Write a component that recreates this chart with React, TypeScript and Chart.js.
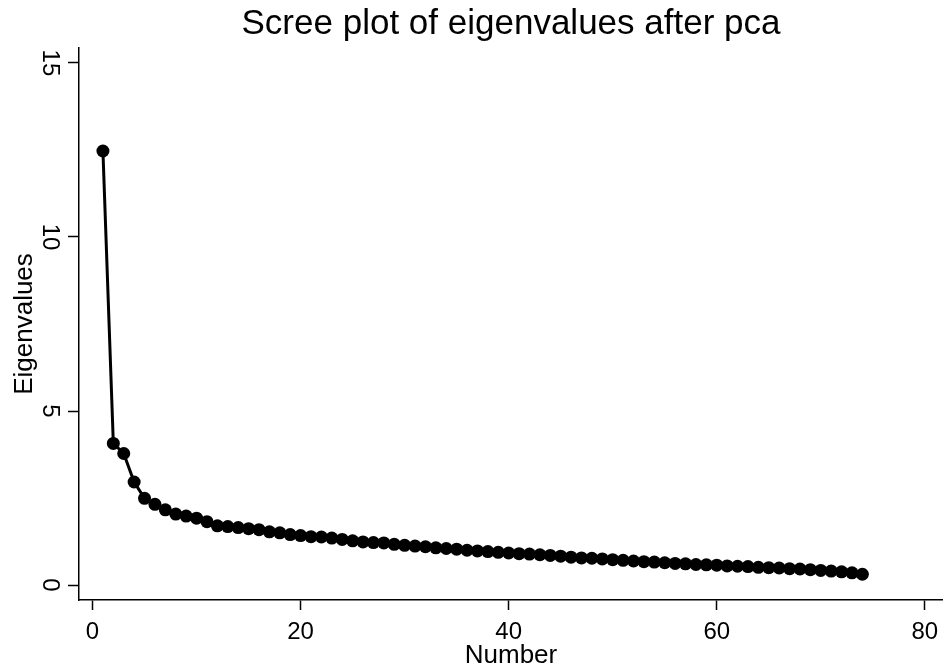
import React, { useEffect, useRef } from "react";
import { Chart, registerables } from "chart.js";

Chart.register(...registerables);

const chartTitle = "Scree plot of eigenvalues after pca";
const xAxisTitle = "Number";
const yAxisTitle = "Eigenvalues";

const eigenvalues = [
  12.47, 4.07, 3.78, 2.96, 2.49, 2.32, 2.16, 2.04, 1.98, 1.92,
  1.82, 1.7, 1.68, 1.65, 1.62, 1.59, 1.53, 1.5, 1.45, 1.42,
  1.39, 1.38, 1.35, 1.31, 1.27, 1.24, 1.22, 1.21, 1.17, 1.14,
  1.12, 1.1, 1.07, 1.05, 1.03, 1.0, 0.98, 0.96, 0.94, 0.92,
  0.9, 0.89, 0.87, 0.85, 0.83, 0.8, 0.78, 0.77, 0.75, 0.73,
  0.71, 0.69, 0.67, 0.66, 0.64, 0.62, 0.61, 0.59, 0.58, 0.57,
  0.55, 0.54, 0.53, 0.51, 0.5, 0.49, 0.47, 0.46, 0.44, 0.42,
  0.4, 0.38, 0.35, 0.31,
];
const componentNumbers = eigenvalues.map((_, i) => i + 1);

const xTicks = [0, 20, 40, 60, 80];
const yTicks = [0, 5, 10, 15];

const FONT = "'Liberation Sans', Arial, Helvetica, sans-serif";

export default function App() {
  const ref = useRef<HTMLCanvasElement | null>(null);

  useEffect(() => {
    if (!ref.current) return;
    const chart = new Chart(ref.current, {
      type: "scatter",
      data: {
        datasets: [
          {
            data: componentNumbers.map((n, i) => ({ x: n, y: eigenvalues[i] })),
            showLine: true,
            borderColor: "#000",
            borderWidth: 3,
            pointRadius: 6.5,
            pointBackgroundColor: "#000",
            pointBorderWidth: 0,
          },
        ],
      },
      options: {
        responsive: false,
        animation: false,
        layout: { autoPadding: false, padding: { top: 0, right: 0, bottom: 0, left: 0 } },
        plugins: {
          legend: { display: false },
          tooltip: { enabled: false },
          title: {
            display: true,
            text: chartTitle,
            fullSize: false,
            color: "#000",
            font: { family: FONT, size: 35, weight: "normal", lineHeight: 1.2 },
            padding: { top: 3.5, bottom: 2.5 },
          },
        },
        scales: {
          x: {
            type: "linear",
            position: "bottom",
            min: -1.3,
            max: 81.75,
            afterBuildTicks: (s: any) => {
              s.ticks = xTicks.map((v) => ({ value: v }));
            },
            afterFit: (s: any) => {
              s.height = 68;
              s.paddingRight = 0;
              s.paddingLeft = 0;
            },
            grid: {
              display: true,
              drawOnChartArea: false,
              drawTicks: true,
              tickLength: 10,
              tickWidth: 1.5,
              tickColor: "#000",
            },
            border: { display: true, color: "#000", width: 1.5 },
            ticks: {
              color: "#000",
              font: { family: FONT, size: 24 },
              padding: 8,
              maxRotation: 0,
              minRotation: 0,
              autoSkip: false,
            },
            title: {
              display: true,
              text: xAxisTitle,
              color: "#000",
              font: { family: FONT, size: 26, lineHeight: 1.2 },
              padding: { top: 0, bottom: -3 },
            },
          },
          y: {
            type: "linear",
            position: "left",
            min: -0.43,
            max: 15.43,
            afterBuildTicks: (s: any) => {
              s.ticks = yTicks.map((v) => ({ value: v }));
            },
            afterFit: (s: any) => {
              s.width = 79;
            },
            grid: {
              display: true,
              drawOnChartArea: false,
              drawTicks: true,
              tickLength: 11,
              tickWidth: 1.5,
              tickColor: "#000",
            },
            border: { display: true, color: "#000", width: 1.5 },
            ticks: {
              color: "#000",
              font: { family: FONT, size: 24 },
              padding: 5,
              minRotation: -90,
              maxRotation: -90,
              crossAlign: "center",
              autoSkip: false,
            },
            title: {
              display: true,
              text: yAxisTitle,
              color: "#000",
              font: { family: FONT, size: 26, lineHeight: 1.2 },
              padding: { top: 9, bottom: 0 },
            },
          },
        },
      },
    } as any);
    return () => chart.destroy();
  }, []);

  return (
    <div style={{ position: "fixed", left: 0, top: 0, width: 943, height: 668, background: "#fff" }}>
      <canvas ref={ref} width={943} height={668} />
    </div>
  );
}
